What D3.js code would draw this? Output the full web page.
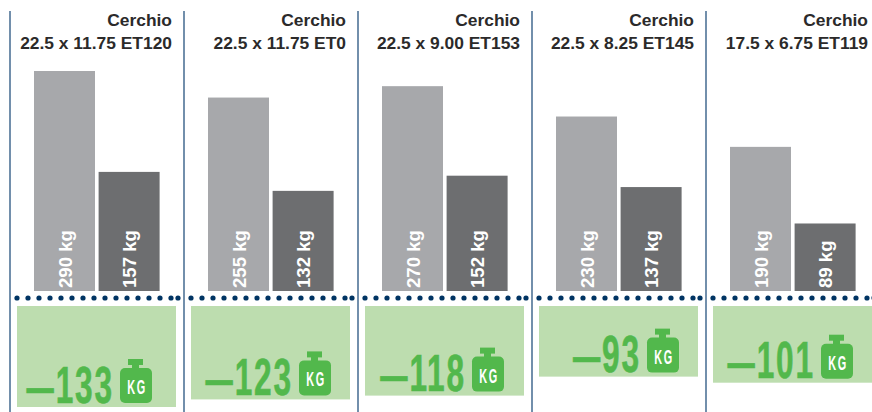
<!DOCTYPE html>
<html>
<head>
<meta charset="utf-8">
<style>
    html, body { margin: 0; padding: 0; background: #fff; overflow: hidden; }
    text { font-family: "Liberation Sans", Arial, sans-serif; font-weight: bold; }
</style>
<script src="https://cdn.jsdelivr.net/npm/d3@7/dist/d3.min.js"></script>
</head>
<body>
<svg id="chart" width="872" height="412"></svg>
<script>
(function (d3) {
    'use strict';

    var wheels    = ['22.5 x 11.75 ET120', '22.5 x 11.75 ET0', '22.5 x 9.00 ET153', '22.5 x 8.25 ET145', '17.5 x 6.75 ET119'];
    var steel     = [290, 255, 270, 230, 190];
    var alloy     = [157, 132, 152, 137, 89];
    var saved     = [133, 123, 118, 93, 101];
    var iconInset = [110, 115, 114, 115, 115]; // the icon sits a bit further left in the first panel

    var barDomain = 290,
        boxDomain = 133,
        panelTop  = 11,
        dotY      = 298;

    var svg = d3.select('#chart');

    var panelX = d3.scaleBand().domain(wheels).range([10, 880]);
    var barX   = d3.scaleBand().domain(['steel', 'alloy']).range([24, 149.6]).paddingInner(3.6 / 64.6);
    var barY   = d3.scaleLinear().domain([0, barDomain]).range([291, 71]);
    var boxY   = d3.scaleLinear().domain([0, boxDomain]).range([306, 407]);

    var panels = svg.selectAll('.panel').data(wheels).enter().append('g')
        .attr('class', 'panel')
        .attr('transform', function (d) { return 'translate(' + panelX(d) + ',0)'; });

    panels.append('line')
        .attr('x1', 0).attr('x2', 0)
        .attr('y1', panelTop).attr('y2', 412)
        .attr('stroke', '#4f7397')
        .attr('stroke-width', 1.6);

    panels.append('text')
        .attr('x', 162).attr('y', 26)
        .attr('text-anchor', 'end')
        .attr('font-size', 17.4)
        .attr('fill', '#2b2a2a')
        .text('Cerchio');

    panels.append('text')
        .attr('x', 162).attr('y', 49)
        .attr('text-anchor', 'end')
        .attr('font-size', 17.4)
        .attr('fill', '#2b2a2a')
        .text(String);

    function drawBars(key, values, colour) {
        var g = panels.append('g').attr('class', 'bar-' + key);

        g.append('rect')
            .attr('x', barX(key))
            .attr('width', barX.bandwidth())
            .attr('y', function (d, i) { return barY(values[i]); })
            .attr('height', function (d, i) { return barY(0) - barY(values[i]); })
            .attr('fill', colour);

        g.append('text')
            .attr('transform', 'translate(' + (barX(key) + barX.bandwidth() / 2 + 7) + ',' + (barY(0) - 3) + ') rotate(-90)')
            .attr('font-size', 18.6)
            .attr('fill', '#fff')
            .text(function (d, i) { return values[i] + ' kg'; });
    }

    drawBars('steel', steel, '#a7a8ab');
    drawBars('alloy', alloy, '#6d6e70');

    // dotted rule, restarted in every panel
    panels.selectAll('.dot')
        .data(d3.range(7, 162, 11).concat([168]))
        .enter().append('circle')
        .attr('class', 'dot')
        .attr('cx', Number)
        .attr('cy', dotY)
        .attr('r', 2.6)
        .attr('fill', '#003463');

    panels.append('rect')
        .attr('x', 7)
        .attr('y', boxY(0))
        .attr('width', 159)
        .attr('height', function (d, i) { return boxY(saved[i]) - boxY(0); })
        .attr('fill', '#bdddaf');

    var icons = panels.append('g')
        .attr('transform', function (d, i) {
            return 'translate(' + iconInset[i] + ',' + (boxY(saved[i]) - 4) + ')';
        });

    icons.append('rect').attr('x', 8).attr('y', -44).attr('width', 15).attr('height', 6).attr('fill', '#52b84c');
    icons.append('rect').attr('x', 12).attr('y', -40).attr('width', 7).attr('height', 8).attr('fill', '#52b84c');
    icons.append('rect').attr('x', 0).attr('y', -35).attr('width', 32).attr('height', 35).attr('rx', 5).attr('fill', '#52b84c');

    icons.append('text')
        .attr('transform', 'translate(17,-9) scale(0.52,1)')
        .attr('text-anchor', 'middle')
        .attr('font-size', 21)
        .attr('letter-spacing', 3)
        .attr('fill', '#fff')
        .text('KG');

    var amounts = panels.append('text')
        .attr('transform', function (d, i) {
            return 'translate(' + (iconInset[i] - 6) + ',' + (boxY(saved[i]) - 4.5) + ') scale(0.62,1)';
        })
        .attr('text-anchor', 'end')
        .attr('font-size', 51)
        .attr('letter-spacing', 3)
        .attr('fill', '#52b84c')
        .attr('stroke', '#52b84c')
        .attr('stroke-width', 0.6);

    amounts.append('tspan').attr('font-size', 44).text('\u2014');
    amounts.append('tspan').text(function (d, i) { return saved[i]; });
}(window.d3));
</script>
</body>
</html>
